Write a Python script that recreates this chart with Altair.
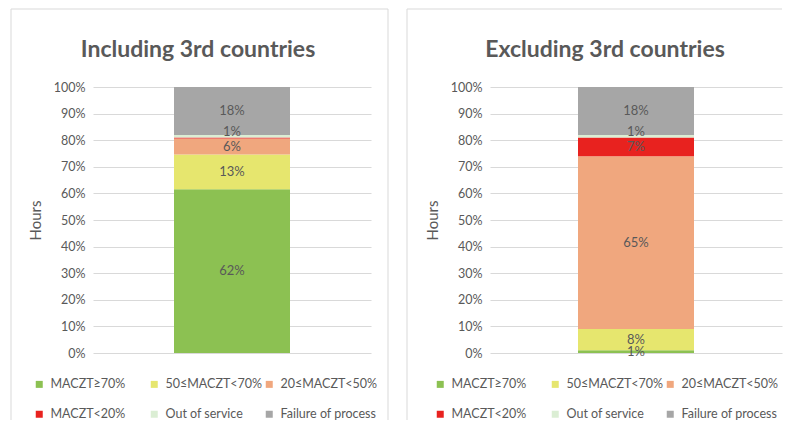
import altair as alt
import pandas as pd

FONT = "Lato"
TXT = "#595959"
GRID = "#d9d9d9"

categories = ["MACZT≥70%", "50≤MACZT<70%", "20≤MACZT<50%", "MACZT<20%",
              "Out of service", "Failure of process"]
colors = ["#8cc152", "#e6e66e", "#f0a77e", "#e8221f", "#dbeed4", "#a6a6a6"]
including = [61.6, 13.0, 6.0, 0.4, 1.0, 18.0]
excluding = [1.0, 8.0, 65.0, 7.0, 1.0, 18.0]
tick_values = [0, 0.1, 0.2, 0.3, 0.4, 0.5, 0.6, 0.7, 0.8, 0.9, 1.0]

# legend is laid out column-major in two rows: reorder so rows read like the reference
legend_order = [0, 3, 1, 4, 2, 5]
legend_domain = [categories[i] for i in legend_order]
legend_range = [colors[i] for i in legend_order]

PLOT_H = 266
PAD = {"left": 2, "top": 0, "right": 0, "bottom": 0}
TOP = -78
BOTTOM = 333


def panel(name, values, title, width, bl, br, title_x, legend_x, right_edge=True):
    df = pd.DataFrame({
        "panel": name,
        "category": categories,
        "value": [v / 100 for v in values],
        "order": list(range(len(categories))),
        "label": [f"{round(v)}%" if v >= 0.5 else "" for v in values],
    })
    yaxis = alt.Axis(format="%", values=tick_values, title="Hours",
                     domain=False, ticks=False, gridColor=GRID,
                     labelFont=FONT, labelFontSize=12.5, labelColor=TXT,
                     labelPadding=8, titleFont=FONT, titleFontSize=15,
                     titleFontWeight="normal", titleColor=TXT, titlePadding=10)
    base = alt.Chart(df).properties(width=width, height=PLOT_H)
    bars = base.mark_bar(size=116).encode(
        x=alt.X("panel:N", axis=None),
        y=alt.Y("value:Q", stack="zero", scale=alt.Scale(domain=[0, 1]), axis=yaxis),
        color=alt.Color("category:N",
                        scale=alt.Scale(domain=legend_domain, range=legend_range),
                        legend=alt.Legend(orient="none", legendX=legend_x, legendY=291,
                                          columns=3, gridAlign="all", columnPadding=0,
                                          rowPadding=17, symbolType="square",
                                          symbolSize=49, symbolStrokeWidth=0,
                                          labelOffset=5, labelFont=FONT,
                                          labelFontSize=12.5, labelColor=TXT,
                                          title=None)),
        order=alt.Order("order:Q"),
    )
    labels = base.transform_stack(
        stack="value", as_=["y0", "y1"], groupby=["panel"],
        sort=[alt.SortField("order")]
    ).transform_calculate(
        mid="(datum.y0 + datum.y1) / 2 + (datum.category == 'Out of service' ? 0.015 : 0)"
    ).mark_text(font=FONT, fontSize=13, color=TXT).encode(
        x=alt.X("panel:N", axis=None),
        y=alt.Y("mid:Q", scale=alt.Scale(domain=[0, 1]), axis=yaxis),
        text="label:N",
    )
    deco = alt.Chart(alt.Data(values=[{}]))
    layers = [
        deco.mark_rule(color=GRID).encode(
            x=alt.value(bl), x2=alt.value(br), y=alt.value(TOP)),
        deco.mark_rule(color=GRID).encode(
            x=alt.value(bl), y=alt.value(TOP), y2=alt.value(BOTTOM)),
    ]
    if right_edge:
        layers.append(deco.mark_rule(color=GRID).encode(
            x=alt.value(br), y=alt.value(TOP), y2=alt.value(BOTTOM)))
    layers.append(deco.mark_text(font=FONT, fontSize=23, fontWeight="bold", color=TXT,
                                 baseline="middle").encode(
        x=alt.value(title_x), y=alt.value(-37), text=alt.value(title)))
    layers += [bars, labels]
    return alt.layer(*layers)


p1 = panel("incl", including, "Including 3rd countries", 278, -82, 295, 105, -60)
p2 = panel("excl", excluding, "Excluding 3rd countries", 292, -83, 292, 115, -56,
           right_edge=False)

chart = alt.hconcat(p1, p2, spacing=17).resolve_scale(
    color="independent", y="independent"
).resolve_legend(color="independent").properties(
    padding=PAD
).configure(
    padding=PAD
).configure_view(strokeWidth=0)

chart.save("out.html", embed_options={"renderer": "svg", "actions": False})
